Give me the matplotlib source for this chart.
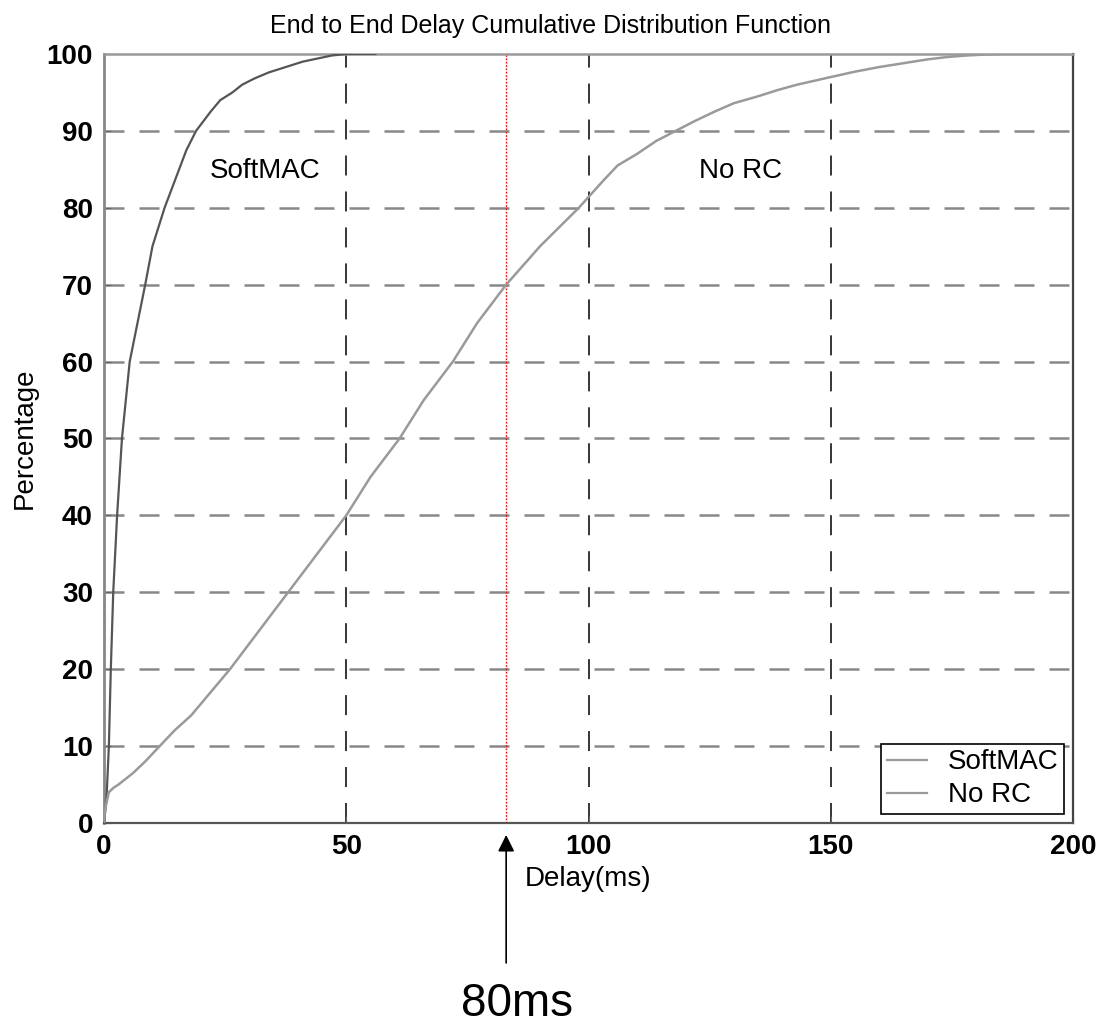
import matplotlib
matplotlib.use("Agg")
import matplotlib.pyplot as plt

plt.rcParams['font.family'] = ['Liberation Sans', 'DejaVu Sans']
plt.rcParams['lines.scale_dashes'] = False

# SoftMAC delay CDF (ms, %)
softmac_x = [0, 0.5, 1.0, 1.4, 1.9, 2.7, 3.7, 5.3, 8.5, 10, 12.5, 15.5, 17, 19, 22, 24,
             26.5, 28.5, 31, 34, 37.5, 41, 44, 47, 50, 56]
softmac_y = [0, 3, 10, 20, 30, 40, 50, 60, 70, 75, 80, 85, 87.5, 90, 92.5, 94,
             95, 96, 96.8, 97.6, 98.3, 99, 99.4, 99.8, 100, 100]

# No RC delay CDF (ms, %)
norc_x = [0, 0.1, 0.3, 1, 2, 3, 6, 8.5, 11.5, 14.5, 18, 22, 26, 29, 32, 35, 38, 41, 44,
          47, 50, 52.5, 55, 58, 61, 63.5, 66, 69, 72, 74.5, 77, 80, 83, 86.5, 90, 94,
          98, 103, 106, 110, 114, 118, 122, 126, 130, 135, 139, 143, 146.5, 150, 155,
          160, 165, 170, 174, 178, 181, 185, 200]
norc_y = [0, 1, 2, 4, 4.6, 5, 6.5, 8, 10, 12, 14, 17, 20, 22.5, 25, 27.5, 30, 32.5, 35,
          37.5, 40, 42.5, 45, 47.5, 50, 52.5, 55, 57.5, 60, 62.5, 65, 67.5, 70, 72.5, 75,
          77.5, 80, 83.5, 85.5, 87, 88.7, 90, 91.3, 92.5, 93.6, 94.5, 95.3, 96, 96.5, 97,
          97.7, 98.3, 98.8, 99.3, 99.6, 99.8, 99.9, 100, 100]

xticks = [0, 50, 100, 150, 200]
yticks = [0, 10, 20, 30, 40, 50, 60, 70, 80, 90, 100]
marker_ms = 83

fig = plt.figure(figsize=(11.02, 10.30), dpi=100)
ax = fig.add_axes([0.0944, 0.2010, 0.8793, 0.7466])

# grid, drawn by hand to get the two styles
for y in yticks[1:-1]:
    ax.axhline(y, color='#888888', lw=1.8, ls=(0, (14.4, 10.8)), zorder=1)
for x in xticks[1:-1]:
    ax.axvline(x, color='black', lw=1.1, ls=(0, (14.4, 11.5)), zorder=1)

ax.axvline(marker_ms, color='red', lw=1.0, ls=(0, (1.2, 1.2)), zorder=2)

ax.plot(softmac_x, softmac_y, color='#555555', lw=1.6, label='SoftMAC', zorder=3)
ax.plot(norc_x, norc_y, color='#9a9a9a', lw=1.8, label='No RC', zorder=3)

ax.set_xlim(0, 200)
ax.set_ylim(0, 100)
ax.set_xticks(xticks)
ax.set_yticks(yticks)
ax.tick_params(direction='in', length=5, color='#666666', labelsize=20, pad=8)
for lab in ax.get_xticklabels() + ax.get_yticklabels():
    lab.set_fontweight('bold')

ax.spines['left'].set_color('#888888')
ax.spines['left'].set_linewidth(2.0)
ax.spines['top'].set_color('#999999')
ax.spines['top'].set_linewidth(1.8)
ax.spines['bottom'].set_color('#555555')
ax.spines['bottom'].set_linewidth(1.6)
ax.spines['right'].set_color('#444444')
ax.spines['right'].set_linewidth(1.6)

ax.set_xlabel('Delay(ms)', fontsize=20, labelpad=4)
ax.set_ylabel('Percentage', fontsize=20, labelpad=6)
fig.text(0.5, 0.968, 'End to End Delay Cumulative Distribution Function',
         ha='center', va='baseline', fontsize=18)

ax.text(33.2, 84.8, 'SoftMAC', fontsize=20, ha='center', va='center')
ax.text(131.3, 84.8, 'No RC', fontsize=20, ha='center', va='center')

leg = ax.legend(loc='lower right', fontsize=20, frameon=True, fancybox=False,
                framealpha=1, edgecolor='black', handlelength=1.43,
                handletextpad=0.75, labelspacing=0.25, borderpad=0.2,
                borderaxespad=0.33)
leg.get_frame().set_linewidth(1.2)
for line in leg.get_lines():
    line.set_linewidth(1.6)
    line.set_color('#9a9a9a')

# arrow pointing at the marker line, with its label
ax.annotate('', xy=(marker_ms, -0.0156), xycoords=ax.get_xaxis_transform(),
            xytext=(marker_ms, -0.182), textcoords=ax.get_xaxis_transform(),
            arrowprops=dict(arrowstyle='-|>', color='black', lw=1.2,
                            mutation_scale=25, shrinkA=0, shrinkB=0),
            annotation_clip=False)
fig.text(517 / 1102, 0.004, '80ms', ha='center', va='bottom', fontsize=33)

fig.savefig('out.png', dpi=100)
